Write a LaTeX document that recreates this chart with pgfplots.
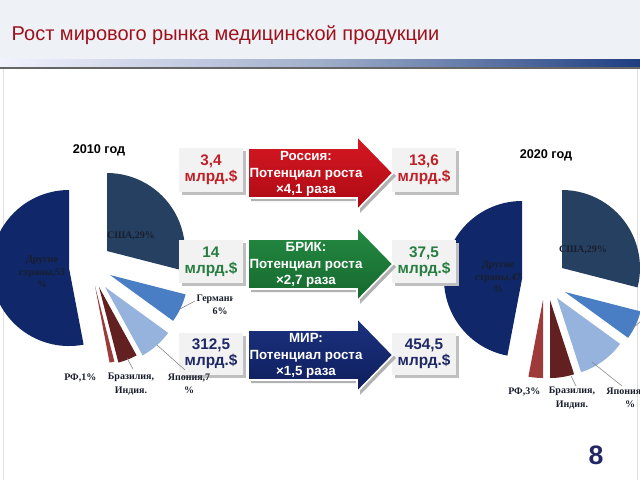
\documentclass[border=0pt]{standalone}
\usepackage{pgfplots}
\pgfplotsset{compat=1.18}
\usepackage{fontspec}
\setmainfont{Liberation Sans}
\newfontfamily\lbl{Liberation Serif}
\definecolor{hdrbg}{RGB}{238,241,246}
\definecolor{titlered}{RGB}{160,16,26}
\definecolor{cUSA}{RGB}{38,64,97}
\definecolor{cGER}{RGB}{74,126,196}
\definecolor{cJAP}{RGB}{149,179,220}
\definecolor{cBRA}{RGB}{99,32,32}
\definecolor{cRF}{RGB}{158,58,58}
\definecolor{cOTH}{RGB}{16,40,105}
\definecolor{vred}{RGB}{192,32,40}
\definecolor{vgreen}{RGB}{40,125,65}
\definecolor{vnavy}{RGB}{30,40,100}
\definecolor{boxbg}{RGB}{242,242,242}
\definecolor{lbltext}{RGB}{25,30,45}
% apex x, apex y (pixels), cumulative percent before slice, slice percent, colour
\newcommand\pieslice[5]{%
  \fill[#5] (axis cs:#1,#2) -- ++({90-3.6*(#3)}:58.5pt) arc[start angle={90-3.6*(#3)},end angle={90-3.6*((#3)+(#4))},radius=58.5pt] -- cycle;}
% value box: centre x, top y, bottom y, line1, colour
\newcommand\valbox[5]{%
  \fill[black!25] (axis cs:#1-29,#2+3) rectangle (axis cs:#1+35,#3+3);
  \fill[boxbg] (axis cs:#1-32,#2) rectangle (axis cs:#1+32,#3);
  \node[align=center,text=#5,font=\fontsize{11.5}{12}\selectfont\bfseries] at (axis cs:#1,#2/2+#3/2) {#4\\млрд.\$};}
% arrow: centre y, colour top, colour bottom, text
\newcommand\bigarrow[4]{%
  \fill[black!30] (axis cs:251,#1-22) -- (axis cs:360,#1-22) -- (axis cs:360,#1-34) -- (axis cs:396,#1+3) -- (axis cs:360,#1+40) -- (axis cs:360,#1+28) -- (axis cs:251,#1+28) -- cycle;
  \shade[top color=#2,bottom color=#3,draw=white,line width=1.2pt] (axis cs:248,#1-25) -- (axis cs:357,#1-25) -- (axis cs:357,#1-37) -- (axis cs:393,#1) -- (axis cs:357,#1+37) -- (axis cs:357,#1+25) -- (axis cs:248,#1+25) -- cycle;
  \node[align=center,text=white,font=\fontsize{10}{12.5}\selectfont\bfseries] at (axis cs:306,#1+1) {#4};}
\begin{document}
\begin{tikzpicture}
\begin{axis}[name=ax,width=480pt,height=360pt,scale only axis,
  xmin=0,xmax=640,ymin=0,ymax=480,y dir=reverse,hide axis]
% header
\fill[hdrbg] (axis cs:0,0) rectangle (axis cs:640,59);
\shade[left color=white!95!blue,right color={rgb,255:red,30;green,62;blue,130},middle color={rgb,255:red,160;green,175;blue,202}] (axis cs:0,59) rectangle (axis cs:640,67);
\fill[black!60] (axis cs:0,67) rectangle (axis cs:640,69);
\draw[black!12] (axis cs:3,69) -- (axis cs:3,480);
\draw[black!12] (axis cs:637,69) -- (axis cs:637,480);
\node[anchor=base west,text=titlered,font=\fontsize{15}{18}\selectfont] at (axis cs:7,40) {Рост мирового рынка медицинской продукции};
% 2010 pie: США 29, Германия 6, Япония 7, Бразилия/Индия 4, РФ 1, Другие 53
\pieslice{107}{251}{0}{29}{cUSA}
\pieslice{110}{275}{29}{6}{cGER}
\pieslice{105}{287}{35}{7}{cJAP}
\pieslice{99}{287}{42}{4}{cBRA}
\pieslice{95}{286}{46}{1}{cRF}
\pieslice{69}{268}{47}{53}{cOTH}
% 2020 pie: США 29, Германия 6, Япония 10, Бразилия/Индия 5, РФ 3, Другие 47
\pieslice{562}{268}{0}{29}{cUSA}
\pieslice{565}{292}{29}{6}{cGER}
\pieslice{557}{298}{35}{10}{cJAP}
\pieslice{550}{300}{45}{5}{cBRA}
\pieslice{543}{300}{50}{3}{cRF}
\pieslice{522}{279}{53}{47}{cOTH}
% value boxes and arrows
\valbox{211}{148}{192}{3,4}{vred}
\valbox{424}{148}{192}{13,6}{vred}
\valbox{211}{240}{283}{14}{vgreen}
\valbox{424}{240}{283}{37,5}{vgreen}
\valbox{211}{333}{375}{312,5}{vnavy}
\valbox{424}{333}{375}{454,5}{vnavy}
\bigarrow{173}{{rgb,255:red,214;green,24;blue,34}}{{rgb,255:red,172;green,10;blue,20}}{Россия:\\Потенциал роста\\×4,1 раза}
\bigarrow{264}{{rgb,255:red,36;green,138;blue,66}}{{rgb,255:red,22;green,104;blue,46}}{БРИК:\\Потенциал роста\\×2,7 раза}
\bigarrow{355}{{rgb,255:red,28;green,50;blue,128}}{{rgb,255:red,14;green,30;blue,92}}{МИР:\\Потенциал роста\\×1,5 раза}
% titles of pies
\node[font=\fontsize{9.5}{11}\selectfont\bfseries] at (axis cs:99,150) {2010 год};
\node[font=\fontsize{9.5}{11}\selectfont\bfseries] at (axis cs:546,155) {2020 год};
% pie labels 2010
\node[text=lbltext,font=\lbl\fontsize{7.5}{9}\selectfont\bfseries] at (axis cs:131,236) {США,29\%};
\node[align=center,text=lbltext,font=\lbl\fontsize{7.5}{9.5}\selectfont\bfseries] at (axis cs:42,272) {Другие\\страны,53\\\%};
\draw[black!50,line width=0.4pt] (axis cs:180,309) -- (axis cs:195,301);
\draw[black!50,line width=0.4pt] (axis cs:157,345) -- (axis cs:185,370);
\draw[black!50,line width=0.4pt] (axis cs:127,358) -- (axis cs:133,369);
\begin{scope}
\clip (axis cs:190,290) rectangle (axis cs:232,320);
\node[align=center,text=lbltext,font=\lbl\fontsize{7.5}{9.5}\selectfont\bfseries] at (axis cs:220,305) {Германия,\\6\%};
\end{scope}
\node[anchor=east,text=lbltext,font=\lbl\fontsize{7.5}{9}\selectfont\bfseries] at (axis cs:101,378) {РФ,1\%};
\node[align=center,text=lbltext,font=\lbl\fontsize{7.5}{10}\selectfont\bfseries] at (axis cs:131,384) {Бразилия,\\Индия.};
\node[align=center,text=lbltext,font=\lbl\fontsize{7.5}{10}\selectfont\bfseries] at (axis cs:189,384) {Япония,7\\\%};
% pie labels 2020
\node[text=lbltext,font=\lbl\fontsize{7.5}{9}\selectfont\bfseries] at (axis cs:583,250) {США,29\%};
\node[align=center,text=lbltext,font=\lbl\fontsize{7.5}{9.5}\selectfont\bfseries] at (axis cs:498,277) {Другие\\страны,47\\\%};
\draw[black!50,line width=0.4pt] (axis cs:592,362) -- (axis cs:622,386);
\draw[black!50,line width=0.4pt] (axis cs:571,376) -- (axis cs:576,386);
\draw[black!50,line width=0.4pt] (axis cs:632,329) -- (axis cs:642,320);
\node[anchor=east,text=lbltext,font=\lbl\fontsize{7.5}{9}\selectfont\bfseries] at (axis cs:545,392) {РФ,3\%};
\node[align=center,text=lbltext,font=\lbl\fontsize{7.5}{10}\selectfont\bfseries] at (axis cs:572,398) {Бразилия,\\Индия.};
\node[align=center,text=lbltext,font=\lbl\fontsize{7.5}{10}\selectfont\bfseries] at (axis cs:630,398) {Япония,10\\\%};
\node[text={rgb,255:red,35;green,40;blue,100},font=\fontsize{20}{24}\selectfont\bfseries] at (axis cs:596,455) {8};
\end{axis}
\pgfresetboundingbox
\path (ax.south west) rectangle (ax.north east);
\end{tikzpicture}
\end{document}
